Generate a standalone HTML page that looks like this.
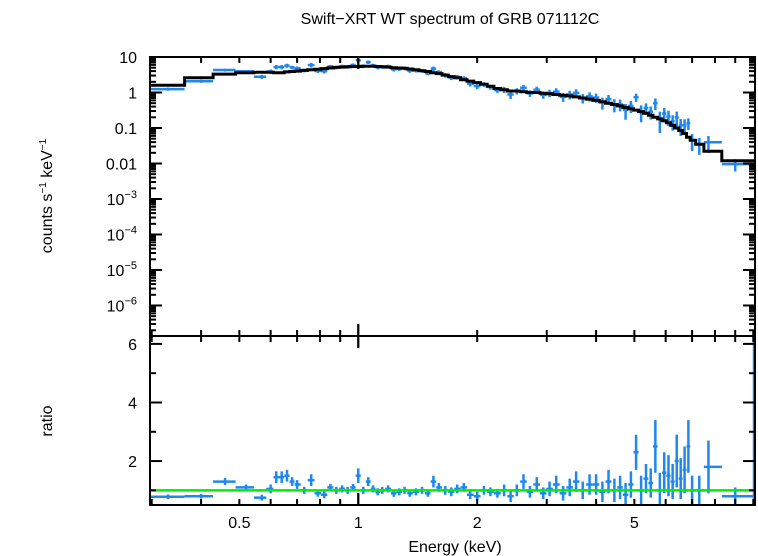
<!DOCTYPE html>
<html><head><meta charset="utf-8">
<style>
body{margin:0;background:#fff;}
svg{display:block;font-family:"Liberation Sans",sans-serif;}
</style></head>
<body>
<svg id="chart" width="758" height="556" viewBox="0 0 758 556">
<text x="450" y="24" font-size="16" text-anchor="middle">Swift−XRT WT spectrum of GRB 071112C</text>
<text transform="translate(52,196) rotate(-90)" font-size="16" text-anchor="middle">counts s<tspan font-size="10" dy="-6">−1</tspan><tspan dy="6"> keV</tspan><tspan font-size="10" dy="-6">−1</tspan></text>
<text transform="translate(52,421) rotate(-90)" font-size="16" text-anchor="middle">ratio</text>
<text x="455" y="552" font-size="16" text-anchor="middle">Energy (keV)</text>
<g id="g"></g>
</svg>
<script>
const energies=[0.33,0.40,0.46,0.52,0.57,0.60,0.62,0.64,0.66,0.68,0.70,0.73,0.76,0.79,0.82,0.85,0.88,0.91,0.94,0.97,1.00,1.03,1.06,1.09,1.12,1.15,1.19,1.23,1.27,1.31,1.35,1.40,1.45,1.50,1.55,1.60,1.66,1.72,1.78,1.85,1.92,2.00,2.08,2.16,2.25,2.34,2.43,2.52,2.62,2.72,2.83,2.94,3.05,3.17,3.30,3.43,3.56,3.70,3.85,4.00,4.15,4.30,4.45,4.60,4.75,4.90,5.05,5.20,5.35,5.50,5.65,5.80,5.95,6.10,6.25,6.40,6.55,6.70,6.85,7.0,7.3,7.7,9.0];
const modelRate=[1.6,2.6,3.3,3.6,3.7,3.7,3.6,3.6,3.8,3.9,4.0,4.2,4.4,4.5,4.7,4.9,5.1,5.2,5.3,5.4,5.4,5.5,5.5,5.5,5.4,5.3,5.2,5.0,4.9,4.8,4.6,4.4,4.1,3.9,3.6,3.4,3.1,2.8,2.6,2.3,2.1,1.9,1.7,1.5,1.3,1.2,1.1,1.1,1.05,1.0,1.0,0.95,0.92,0.88,0.84,0.8,0.75,0.7,0.65,0.6,0.55,0.5,0.46,0.42,0.38,0.35,0.32,0.29,0.26,0.23,0.2,0.18,0.16,0.14,0.12,0.1,0.085,0.07,0.055,0.045,0.035,0.022,0.012];
const ratios=[0.78,0.8,1.3,1.1,0.75,1.05,1.45,1.45,1.5,1.3,1.2,1.0,1.35,0.9,0.85,1.1,1.0,1.05,1.0,1.1,1.5,1.0,1.3,1.05,0.95,1.0,1.05,0.9,0.95,1.0,0.9,0.95,1.0,0.9,1.3,1.1,1.0,0.95,1.05,1.1,0.85,0.8,1.0,0.95,0.9,1.0,0.8,1.0,1.3,0.95,1.2,0.9,1.05,1.2,0.9,1.1,1.3,1.0,1.2,1.2,0.95,1.3,1.0,1.1,0.85,1.2,2.3,1.0,1.4,1.25,2.5,1.0,1.6,1.5,1.3,2.0,1.4,1.7,2.5,1.0,1.0,1.8,0.8];
const ratioErr=[0.08,0.08,0.12,0.1,0.1,0.15,0.2,0.2,0.2,0.15,0.15,0.12,0.2,0.12,0.12,0.12,0.12,0.12,0.12,0.12,0.25,0.12,0.15,0.12,0.12,0.12,0.12,0.12,0.12,0.12,0.12,0.12,0.12,0.12,0.2,0.15,0.15,0.15,0.15,0.15,0.15,0.15,0.15,0.15,0.15,0.2,0.2,0.2,0.25,0.2,0.25,0.2,0.25,0.3,0.25,0.3,0.35,0.3,0.35,0.35,0.35,0.4,0.4,0.4,0.4,0.45,0.6,0.5,0.5,0.5,0.9,0.6,0.7,0.7,0.6,0.9,0.7,0.8,0.9,0.5,0.5,0.9,0.3];
const topTicks=[1,0,-1,-2,-3,-4,-5,-6];
const ratioTicks=[2,4,6];
const xTickLabels=[0.5,1,2,5];

const NS="http://www.w3.org/2000/svg";
const g=document.getElementById('g');
const L=150,R=755,T1=57,B1=336,T2=336,B2=505;
const xmin=Math.log10(0.297),xmax=Math.log10(10.1);
const X=e=>L+(Math.log10(e)-xmin)/(xmax-xmin)*(R-L);
const ylmax=1,ylmin=-6.86;
const Y1=v=>T1+(ylmax-Math.log10(v))/(ylmax-ylmin)*(B1-T1);
const rmax=6.27,rmin=0.5;
const Y2=v=>T2+(rmax-v)/(rmax-rmin)*(B2-T2);
function el(t,a){const e=document.createElementNS(NS,t);for(const k in a)e.setAttribute(k,a[k]);g.appendChild(e);return e;}
function ln(x1,y1,x2,y2,c,w){return el('line',{x1,y1,x2,y2,stroke:c,'stroke-width':w});}
const BLUE='#1e88f0';
// bin edges
const edges=[0.297];
for(let i=0;i<energies.length-1;i++)edges.push(Math.sqrt(energies[i]*energies[i+1]));
edges.push(10.1);
// model step
let d='';
for(let i=0;i<energies.length;i++){
  const y=Math.max(T1,Math.min(B1,Y1(modelRate[i])));
  d+=(i?'L':'M')+X(edges[i]).toFixed(1)+','+y.toFixed(1)+'L'+X(edges[i+1]).toFixed(1)+','+y.toFixed(1);
}
// data
for(let i=0;i<energies.length;i++){
  const x=X(energies[i]),x1=X(edges[i]),x2=X(edges[i+1]);
  const r=ratios[i],er=ratioErr[i],m=modelRate[i];
  const yc=Y1(m*r),ya=Y1(m*(r+er)),yb=Y1(Math.max(m*(r-er),m*0.05));
  let a=ln(x1,yc,x2,yc,BLUE,2.5);
  
  
  a=ln(x,ya,x,Math.min(B1,yb),BLUE,2.5);
  
  
  const y2c=Y2(r),y2a=Y2(r+er),y2b=Math.min(B2,Y2(r-er));
  a=ln(x1,y2c,x2,y2c,BLUE,2.5);
  
  
  a=ln(x,y2a,x,y2b,BLUE,2.5);
  
  
}
let rb=ln(754,T2+2,754,B2,BLUE,2.5);


const mp=el('path',{d,fill:'none',stroke:'#000','stroke-width':3});


const gl=ln(L,Y2(1),R,Y2(1),'#00ee00',2.5);


// frames
for(const [t,b,n] of [[T1,B1,'top-panel-frame'],[T2,B2,'bottom-panel-frame']]){
  const f=el('rect',{x:L,y:t,width:R-L,height:b-t,fill:'none',stroke:'#000','stroke-width':2});
  
  
}
// x ticks
const majors=[1],minors=[];
for(let v=0.3;v<1;v+=0.1)minors.push(+v.toFixed(1));
for(let v=2;v<=10;v++)minors.push(v);
for(const v of minors.concat([1])){
  const x=X(v),len=(v===1)?12:6;
  ln(x,T1,x,T1+len,'#000',2);ln(x,B1,x,B1-len,'#000',2);
  ln(x,T2,x,T2+len,'#000',2);ln(x,B2,x,B2-len,'#000',2);
}
for(const v of xTickLabels){
  const t=el('text',{x:X(v),y:528,'font-size':16,'text-anchor':'middle'});
  t.textContent=String(v);
  
  
}
// top y ticks
for(const p of topTicks){
  const y=Y1(Math.pow(10,p));
  ln(L,y,L+12,y,'#000',2);ln(R,y,R-12,y,'#000',2);
  for(let k=2;k<10;k++){const ym=Y1(k*Math.pow(10,p-1));if(ym<B1&&ym>T1){ln(L,ym,L+6,ym,'#000',2);ln(R,ym,R-6,ym,'#000',2);}}
  const t=el('text',{x:137,y:y+6,'font-size':16,'text-anchor':'end'});
  if(p>=-2){t.textContent=p>=0?String(Math.pow(10,p)):(p===-1?'0.1':'0.01');}
  else{t.textContent='10';const s=document.createElementNS(NS,'tspan');s.setAttribute('font-size','11');s.setAttribute('dy','-7');s.textContent='−'+(-p);t.appendChild(s);}
  
  
}
// ratio ticks
for(let v=1;v<=6;v++){const y=Y2(v);const len=(v%2===0)?12:6;ln(L,y,L+len,y,'#000',2);ln(R,y,R-len,y,'#000',2);}
for(const v of ratioTicks){
  const t=el('text',{x:137,y:Y2(v)+6,'font-size':16,'text-anchor':'end'});
  t.textContent=String(v);
  
  
}
</script>
</body></html>
